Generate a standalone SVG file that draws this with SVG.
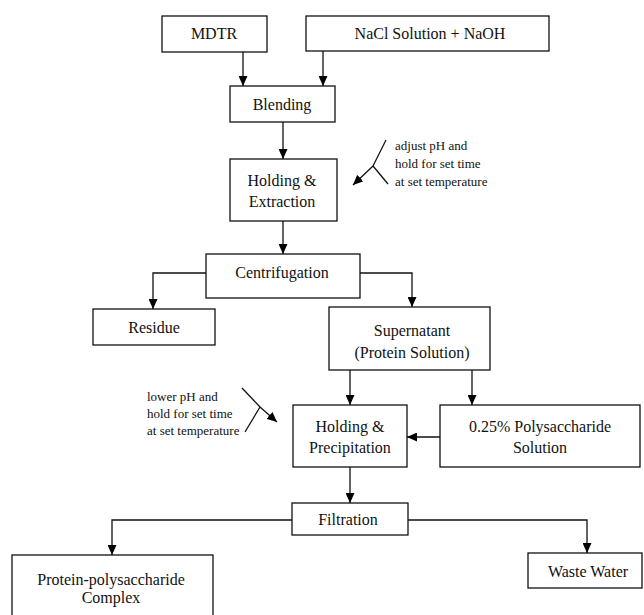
<svg xmlns="http://www.w3.org/2000/svg" width="644" height="615" viewBox="0 0 644 615">
<defs>
<marker id="ah" markerUnits="userSpaceOnUse" markerWidth="10" markerHeight="9" refX="10" refY="4.5" orient="auto">
<path d="M0,0 L10,4.5 L0,9 z" fill="#000"/>
</marker>
<style>
.box{fill:#fff;stroke:#111;stroke-width:1.3}
.lbl{font-family:"Liberation Serif","Times New Roman",serif;font-size:16px;fill:#111;text-anchor:middle}
.ann{font-family:"Liberation Serif","Times New Roman",serif;font-size:13px;fill:#111}
.con{fill:none;stroke:#111;stroke-width:1.3}
.arr{marker-end:url(#ah)}
</style>
</defs>
<rect width="644" height="615" fill="#fff"/>

<g id="connectors">
<line class="con arr" x1="243" y1="52" x2="243" y2="86"/>
<line class="con arr" x1="323" y1="51" x2="323" y2="86"/>
<line class="con arr" x1="283" y1="122" x2="283" y2="159"/>
<line class="con arr" x1="283" y1="221" x2="283" y2="254"/>
<polyline class="con arr" points="206,273 153,273 153,309"/>
<polyline class="con arr" points="360,273 412,273 412,307"/>
<line class="con arr" x1="350" y1="370" x2="350" y2="405"/>
<line class="con arr" x1="472" y1="370" x2="472" y2="405"/>
<line class="con arr" x1="440" y1="437" x2="407" y2="437"/>
<line class="con arr" x1="350" y1="467" x2="350" y2="503"/>
<polyline class="con arr" points="292,520 112,520 112,555"/>
<polyline class="con arr" points="408,520 587,520 587,553"/>
</g>

<g id="annot-top">
<line class="con" x1="386" y1="140" x2="373" y2="166"/>
<line class="con arr" x1="373" y1="166" x2="353" y2="185"/>
<line class="con" x1="373" y1="166" x2="388" y2="184"/>
<text class="ann" x="395" y="150">adjust pH and</text>
<text class="ann" x="395" y="168">hold for set time</text>
<text class="ann" x="395" y="186">at set temperature</text>
</g>

<g id="annot-bottom">
<line class="con" x1="242" y1="388" x2="260" y2="407"/>
<line class="con arr" x1="260" y1="407" x2="277" y2="422"/>
<line class="con" x1="260" y1="407" x2="245" y2="432"/>
<text class="ann" x="147" y="401">lower pH and</text>
<text class="ann" x="147" y="418">hold for set time</text>
<text class="ann" x="147" y="435">at set temperature</text>
</g>

<g id="mdtr"><rect class="box" x="162" y="16" width="105" height="36"/><text class="lbl" x="214" y="39">MDTR</text></g>
<g id="nacl"><rect class="box" x="306" y="16" width="243" height="35"/><text class="lbl" x="430" y="39">NaCl Solution + NaOH</text></g>
<g id="blending"><rect class="box" x="230" y="86" width="105" height="36"/><text class="lbl" x="282" y="110">Blending</text></g>
<g id="holding-extraction"><rect class="box" x="230" y="159" width="107" height="62"/><text class="lbl" x="282" y="186">Holding &amp;</text><text class="lbl" x="282" y="207">Extraction</text></g>
<g id="centrifugation"><rect class="box" x="206" y="254" width="154" height="44"/><text class="lbl" x="282" y="278">Centrifugation</text></g>
<g id="residue"><rect class="box" x="93" y="309" width="122" height="36"/><text class="lbl" x="154" y="333">Residue</text></g>
<g id="supernatant"><rect class="box" x="329" y="307" width="161" height="63"/><text class="lbl" x="412" y="336">Supernatant</text><text class="lbl" x="412" y="358">(Protein Solution)</text></g>
<g id="holding-precipitation"><rect class="box" x="293" y="405" width="114" height="62"/><text class="lbl" x="350" y="432">Holding &amp;</text><text class="lbl" x="350" y="453">Precipitation</text></g>
<g id="polysaccharide"><rect class="box" x="440" y="405" width="200" height="62"/><text class="lbl" x="540" y="432">0.25% Polysaccharide</text><text class="lbl" x="540" y="453">Solution</text></g>
<g id="filtration"><rect class="box" x="292" y="503" width="116" height="32"/><text class="lbl" x="348" y="525">Filtration</text></g>
<g id="complex"><rect class="box" x="12" y="555" width="201" height="72"/><text class="lbl" x="111" y="585">Protein-polysaccharide</text><text class="lbl" x="111" y="603">Complex</text></g>
<g id="waste-water"><rect class="box" x="528" y="553" width="114" height="35"/><text class="lbl" x="588" y="577">Waste Water</text></g>
</svg>
